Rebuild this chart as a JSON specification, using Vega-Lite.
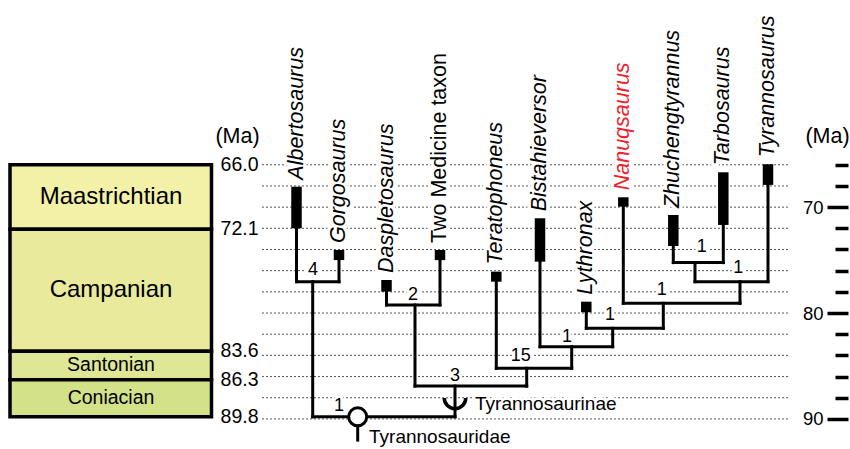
{
  "$schema": "https://vega.github.io/schema/vega-lite/v6.json",
  "width": 850,
  "height": 449,
  "padding": 0,
  "autosize": {"type": "none"},
  "background": "white",
  "config": {"view": {"stroke": null}, "font": "Liberation Sans"},
  "resolve": {"scale": {"y": "independent"}, "axis": {"y": "independent"}},
  "datasets": {
    "stages": [
      {"stage": "Maastrichtian", "y": 66.0, "y2": 72.1},
      {"stage": "Campanian", "y": 72.1, "y2": 83.6},
      {"stage": "Santonian", "y": 83.6, "y2": 86.3},
      {"stage": "Coniacian", "y": 86.3, "y2": 89.8}
    ],
    "grid": [
      {"y": 66}, {"y": 68}, {"y": 70}, {"y": 72}, {"y": 74}, {"y": 76}, {"y": 78},
      {"y": 80}, {"y": 82}, {"y": 84}, {"y": 86}, {"y": 88}, {"y": 90}
    ],
    "ages": [
      {"label": "66.0", "y": 66.0},
      {"label": "72.1", "y": 72.1},
      {"label": "83.6", "y": 83.6},
      {"label": "86.3", "y": 86.3},
      {"label": "89.8", "y": 89.8}
    ],
    "taxa": [
      {"name": "Albertosaurus", "x": 296.5, "y": 68.07, "y2": 72.0, "kind": "genus", "focal": false},
      {"name": "Gorgosaurus", "x": 339, "y": 74.05, "y2": 75.0, "kind": "genus", "focal": false},
      {"name": "Daspletosaurus", "x": 386.5, "y": 76.88, "y2": 77.98, "kind": "genus", "focal": false},
      {"name": "Two Medicine taxon", "x": 440, "y": 74.05, "y2": 75.0, "kind": "informal", "focal": false},
      {"name": "Teratophoneus", "x": 496.3, "y": 76.09, "y2": 77.04, "kind": "genus", "focal": false},
      {"name": "Bistahieversor", "x": 540, "y": 71.05, "y2": 75.15, "kind": "genus", "focal": false},
      {"name": "Lythronax", "x": 586.3, "y": 78.93, "y2": 79.93, "kind": "genus", "focal": false},
      {"name": "Nanuqsaurus", "x": 623.3, "y": 69.07, "y2": 69.96, "kind": "genus", "focal": true},
      {"name": "Zhuchengtyrannus", "x": 673.3, "y": 70.74, "y2": 73.67, "kind": "genus", "focal": false},
      {"name": "Tarbosaurus", "x": 723.3, "y": 66.71, "y2": 71.68, "kind": "genus", "focal": false},
      {"name": "Tyrannosaurus", "x": 768, "y": 65.95, "y2": 67.9, "kind": "genus", "focal": false}
    ],
    "branches": [
      {"x": 296.5, "y": 72.0, "x2": 296.5, "y2": 77.04},
      {"x": 339, "y": 75.0, "x2": 339, "y2": 77.04},
      {"x": 296.5, "y": 77.04, "x2": 339, "y2": 77.04},
      {"x": 312.7, "y": 77.04, "x2": 312.7, "y2": 89.8},
      {"x": 312.7, "y": 89.8, "x2": 455, "y2": 89.8},
      {"x": 357.7, "y": 89.8, "x2": 357.7, "y2": 92.0},
      {"x": 386.5, "y": 77.98, "x2": 386.5, "y2": 79.24},
      {"x": 440, "y": 75.0, "x2": 440, "y2": 79.24},
      {"x": 386.5, "y": 79.24, "x2": 440, "y2": 79.24},
      {"x": 415, "y": 79.24, "x2": 415, "y2": 86.9},
      {"x": 415, "y": 86.9, "x2": 526.7, "y2": 86.9},
      {"x": 455, "y": 86.9, "x2": 455, "y2": 89.8},
      {"x": 496.3, "y": 77.04, "x2": 496.3, "y2": 85.22},
      {"x": 496.3, "y": 85.22, "x2": 571.7, "y2": 85.22},
      {"x": 526.7, "y": 85.22, "x2": 526.7, "y2": 86.9},
      {"x": 540, "y": 75.15, "x2": 540, "y2": 83.18},
      {"x": 540, "y": 83.18, "x2": 612.7, "y2": 83.18},
      {"x": 571.7, "y": 83.18, "x2": 571.7, "y2": 85.22},
      {"x": 586.3, "y": 79.93, "x2": 586.3, "y2": 81.44},
      {"x": 586.3, "y": 81.44, "x2": 663.3, "y2": 81.44},
      {"x": 612.7, "y": 81.44, "x2": 612.7, "y2": 83.18},
      {"x": 623.3, "y": 69.96, "x2": 623.3, "y2": 79.08},
      {"x": 623.3, "y": 79.08, "x2": 740, "y2": 79.08},
      {"x": 663.3, "y": 79.08, "x2": 663.3, "y2": 81.44},
      {"x": 673.3, "y": 73.67, "x2": 673.3, "y2": 75.24},
      {"x": 723.3, "y": 71.68, "x2": 723.3, "y2": 75.24},
      {"x": 673.3, "y": 75.24, "x2": 723.3, "y2": 75.24},
      {"x": 695, "y": 75.24, "x2": 695, "y2": 77.04},
      {"x": 768, "y": 67.9, "x2": 768, "y2": 77.04},
      {"x": 695, "y": 77.04, "x2": 768, "y2": 77.04},
      {"x": 740, "y": 77.04, "x2": 740, "y2": 79.08}
    ],
    "nodes": [
      {"label": "4", "x": 313, "y": 75.9},
      {"label": "2", "x": 413, "y": 78.3},
      {"label": "3", "x": 455, "y": 85.98},
      {"label": "15", "x": 520.7, "y": 84.05},
      {"label": "1", "x": 567, "y": 82.23},
      {"label": "1", "x": 610, "y": 80.18},
      {"label": "1", "x": 661.7, "y": 77.82},
      {"label": "1", "x": 701.7, "y": 73.81},
      {"label": "1", "x": 738.3, "y": 75.77},
      {"label": "1", "x": 339, "y": 88.8}
    ],
    "clades": [
      {"label": "Tyrannosauridae", "x": 369, "y": 91.75, "cx": 357.7, "cy": 89.8, "symbol": "node"},
      {"label": "Tyrannosaurinae", "x": 475, "y": 88.6, "cx": 455, "cy": 88.02, "symbol": "stem"}
    ]
  },
  "layer": [
    {
      "data": {"name": "stages"},
      "mark": {"type": "rect", "stroke": "black", "strokeWidth": 3.5},
      "encoding": {
        "x": {"datum": 10, "type": "quantitative", "scale": {"domain": [0, 850], "nice": false, "zero": false}, "axis": null},
        "x2": {"datum": 211.5},
        "y": {"field": "y", "type": "quantitative", "scale": {"domain": [50.44, 92.84], "nice": false, "zero": false, "reverse": true},
          "axis": {
            "orient": "left", "offset": -848,
            "values": [70, 80, 90],
            "domain": false, "grid": false, "title": null,
            "tickColor": "black", "tickWidth": 3.5, "tickSize": 21,
            "labelFont": "Liberation Sans", "labelFontSize": 18.5, "labelColor": "black",
            "labelPadding": 4, "labelFlush": false, "labelOverlap": false, "labelBound": false
          }},
        "y2": {"field": "y2"},
        "fill": {"field": "stage", "type": "nominal", "legend": null,
          "scale": {"domain": ["Maastrichtian", "Campanian", "Santonian", "Coniacian"],
                    "range": ["#F3F1A7", "#EAEA9C", "#DFE695", "#D3E189"]}}
      }
    },
    {
      "data": {"name": "stages"},
      "transform": [{"calculate": "(datum.y + datum.y2) / 2", "as": "mid"}],
      "mark": {"type": "text", "align": "center", "baseline": "middle", "font": "Liberation Sans", "color": "black"},
      "encoding": {
        "x": {"datum": 111, "type": "quantitative", "axis": null},
        "y": {"field": "mid", "type": "quantitative", "scale": {"domain": [50.44, 92.84], "nice": false, "zero": false, "reverse": true}, "axis": null},
        "text": {"field": "stage"},
        "size": {"condition": {"test": "datum.y2 - datum.y > 5", "value": 24}, "value": 19.5}
      }
    },
    {
      "data": {"name": "grid"},
      "mark": {"type": "rule", "stroke": "#555555", "strokeWidth": 1, "strokeDash": [2, 2]},
      "encoding": {
        "x": {"datum": 262, "type": "quantitative", "axis": null},
        "x2": {"datum": 790},
        "y": {"field": "y", "type": "quantitative", "scale": {"domain": [50.44, 92.84], "nice": false, "zero": false, "reverse": true},
          "axis": {
            "orient": "left", "offset": -848,
            "values": [66, 68, 72, 74, 76, 78, 82, 84, 86, 88],
            "domain": false, "grid": false, "title": null, "labels": false,
            "tickColor": "black", "tickWidth": 3.5, "tickSize": 13
          }}
      }
    },
    {
      "data": {"name": "taxa"},
      "mark": {"type": "text", "angle": 270, "align": "left", "baseline": "middle", "dx": 7, "fontSize": 21.5, "fontStyle": "italic", "font": "Liberation Sans", "fill": "white", "stroke": "white", "strokeWidth": 7, "strokeJoin": "round"},
      "encoding": {
        "x": {"field": "x", "type": "quantitative", "axis": null},
        "y": {"field": "y", "type": "quantitative", "scale": {"domain": [50.44, 92.84], "nice": false, "zero": false, "reverse": true}, "axis": null},
        "text": {"field": "name"}
      }
    },
    {
      "data": {"name": "nodes"},
      "mark": {"type": "text", "align": "center", "baseline": "middle", "fontSize": 18, "font": "Liberation Sans", "fill": "white", "stroke": "white", "strokeWidth": 6, "strokeJoin": "round"},
      "encoding": {
        "x": {"field": "x", "type": "quantitative", "axis": null},
        "y": {"field": "y", "type": "quantitative", "scale": {"domain": [50.44, 92.84], "nice": false, "zero": false, "reverse": true}, "axis": null},
        "text": {"field": "label"}
      }
    },
    {
      "data": {"name": "clades"},
      "mark": {"type": "text", "align": "left", "baseline": "middle", "fontSize": 19, "font": "Liberation Sans", "fill": "white", "stroke": "white", "strokeWidth": 6, "strokeJoin": "round"},
      "encoding": {
        "x": {"field": "x", "type": "quantitative", "axis": null},
        "y": {"field": "y", "type": "quantitative", "scale": {"domain": [50.44, 92.84], "nice": false, "zero": false, "reverse": true}, "axis": null},
        "text": {"field": "label"}
      }
    },
    {
      "data": {"name": "branches"},
      "mark": {"type": "rule", "stroke": "black", "strokeWidth": 3, "strokeCap": "square"},
      "encoding": {
        "x": {"field": "x", "type": "quantitative", "axis": null},
        "y": {"field": "y", "type": "quantitative", "scale": {"domain": [50.44, 92.84], "nice": false, "zero": false, "reverse": true}, "axis": null},
        "x2": {"field": "x2"},
        "y2": {"field": "y2"}
      }
    },
    {
      "data": {"name": "taxa"},
      "mark": {"type": "rule", "stroke": "black", "strokeWidth": 10.5, "strokeCap": "butt"},
      "encoding": {
        "x": {"field": "x", "type": "quantitative", "axis": null},
        "y": {"field": "y", "type": "quantitative", "scale": {"domain": [50.44, 92.84], "nice": false, "zero": false, "reverse": true}, "axis": null},
        "y2": {"field": "y2"}
      }
    },
    {
      "data": {"name": "clades"},
      "transform": [{"filter": "datum.symbol === 'node'"}],
      "mark": {"type": "point", "shape": "circle", "size": 324, "filled": true, "fill": "white", "stroke": "black", "strokeWidth": 3, "opacity": 1},
      "encoding": {
        "x": {"field": "cx", "type": "quantitative", "axis": null},
        "y": {"field": "cy", "type": "quantitative", "scale": {"domain": [50.44, 92.84], "nice": false, "zero": false, "reverse": true}, "axis": null}
      }
    },
    {
      "data": {"name": "clades"},
      "transform": [{"filter": "datum.symbol === 'stem'"}],
      "mark": {"type": "arc", "theta": 1.5708, "theta2": 4.7124, "radius": 12.5, "radius2": 9, "fill": "black"},
      "encoding": {
        "x": {"field": "cx", "type": "quantitative", "axis": null},
        "y": {"field": "cy", "type": "quantitative", "scale": {"domain": [50.44, 92.84], "nice": false, "zero": false, "reverse": true}, "axis": null}
      }
    },
    {
      "data": {"name": "taxa"},
      "transform": [{"filter": "datum.kind === 'genus'"}],
      "mark": {"type": "text", "angle": 270, "align": "left", "baseline": "middle", "dx": 7, "fontSize": 21.5, "fontStyle": "italic", "font": "Liberation Sans"},
      "encoding": {
        "x": {"field": "x", "type": "quantitative", "axis": null},
        "y": {"field": "y", "type": "quantitative", "scale": {"domain": [50.44, 92.84], "nice": false, "zero": false, "reverse": true}, "axis": null},
        "text": {"field": "name"},
        "color": {"condition": {"test": "datum.focal", "value": "#F0202A"}, "value": "black"}
      }
    },
    {
      "data": {"name": "taxa"},
      "transform": [{"filter": "datum.kind === 'informal'"}],
      "mark": {"type": "text", "angle": 270, "align": "left", "baseline": "middle", "dx": 7, "fontSize": 21.5, "font": "Liberation Sans", "color": "black"},
      "encoding": {
        "x": {"field": "x", "type": "quantitative", "axis": null},
        "y": {"field": "y", "type": "quantitative", "scale": {"domain": [50.44, 92.84], "nice": false, "zero": false, "reverse": true}, "axis": null},
        "text": {"field": "name"}
      }
    },
    {
      "data": {"name": "nodes"},
      "mark": {"type": "text", "align": "center", "baseline": "middle", "fontSize": 18, "font": "Liberation Sans", "color": "black"},
      "encoding": {
        "x": {"field": "x", "type": "quantitative", "axis": null},
        "y": {"field": "y", "type": "quantitative", "scale": {"domain": [50.44, 92.84], "nice": false, "zero": false, "reverse": true}, "axis": null},
        "text": {"field": "label"}
      }
    },
    {
      "data": {"name": "clades"},
      "mark": {"type": "text", "align": "left", "baseline": "middle", "fontSize": 19, "font": "Liberation Sans", "color": "black"},
      "encoding": {
        "x": {"field": "x", "type": "quantitative", "axis": null},
        "y": {"field": "y", "type": "quantitative", "scale": {"domain": [50.44, 92.84], "nice": false, "zero": false, "reverse": true}, "axis": null},
        "text": {"field": "label"}
      }
    },
    {
      "data": {"name": "ages"},
      "mark": {"type": "text", "align": "right", "baseline": "middle", "fontSize": 19.5, "font": "Liberation Sans", "color": "black"},
      "encoding": {
        "x": {"datum": 258.5, "type": "quantitative", "axis": null},
        "y": {"field": "y", "type": "quantitative", "scale": {"domain": [50.44, 92.84], "nice": false, "zero": false, "reverse": true}, "axis": null},
        "text": {"field": "label"}
      }
    },
    {
      "data": {"values": [{"unit": "(Ma)"}]},
      "mark": {"type": "text", "align": "center", "baseline": "middle", "fontSize": 21.5, "font": "Liberation Sans", "color": "black"},
      "encoding": {
        "x": {"datum": 237.5, "type": "quantitative", "axis": null},
        "y": {"datum": 63.4, "type": "quantitative", "scale": {"domain": [50.44, 92.84], "nice": false, "zero": false, "reverse": true}, "axis": null},
        "text": {"field": "unit"}
      }
    },
    {
      "data": {"values": [{"unit": "(Ma)"}]},
      "mark": {"type": "text", "align": "center", "baseline": "middle", "fontSize": 21.5, "font": "Liberation Sans", "color": "black"},
      "encoding": {
        "x": {"datum": 827.5, "type": "quantitative", "axis": null},
        "y": {"datum": 63.4, "type": "quantitative", "scale": {"domain": [50.44, 92.84], "nice": false, "zero": false, "reverse": true}, "axis": null},
        "text": {"field": "unit"}
      }
    }
  ]
}
